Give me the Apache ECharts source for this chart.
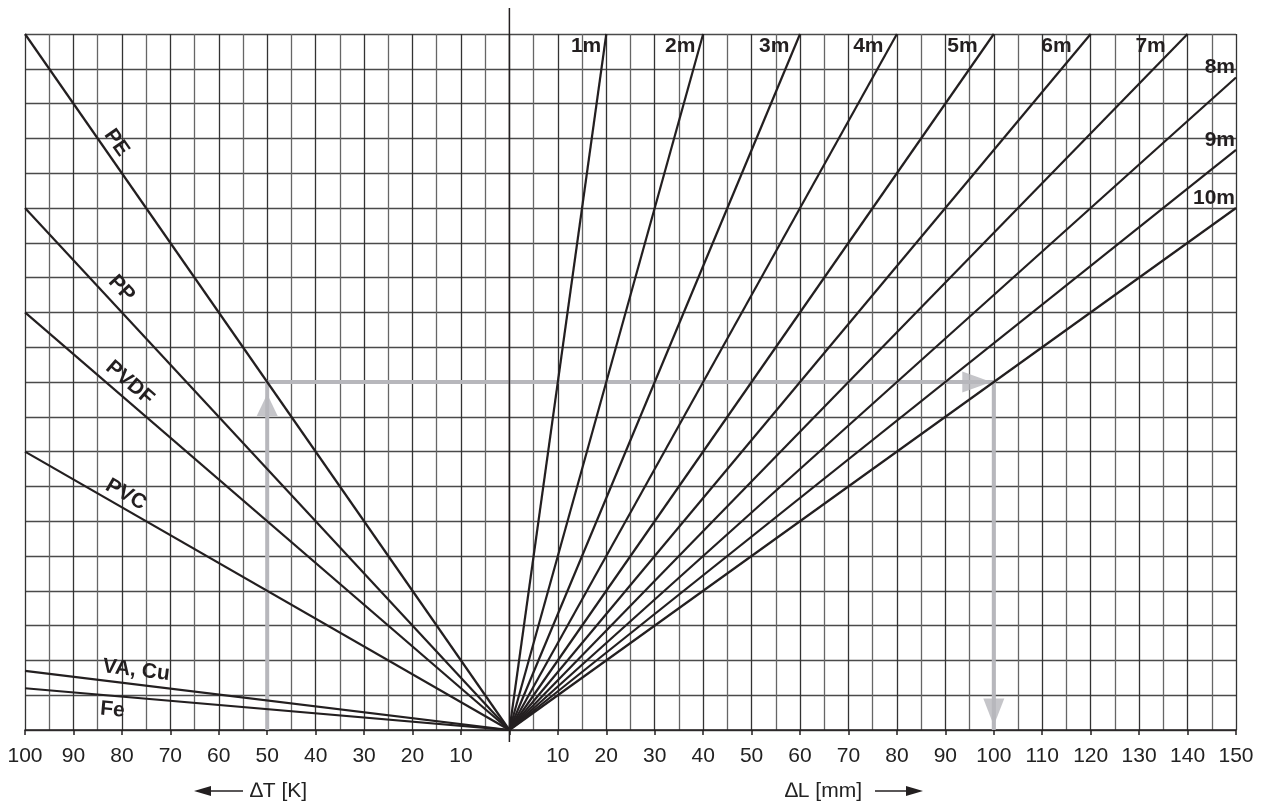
<!DOCTYPE html>
<html>
<head>
<meta charset="utf-8">
<style>
    html, body { margin: 0; padding: 0; background: #fff; }
    #chart { width: 1268px; height: 804px; }
</style>
</head>
<body>
<div id="chart"></div>
<script src="https://cdn.jsdelivr.net/npm/echarts@6.0.0/dist/echarts.min.js"></script>
<script type="text/javascript">
    // pipe lengths (right half): end point of each line
    var lengthNames = ['1m', '2m', '3m', '4m', '5m', '6m', '7m', '8m', '9m', '10m'];
    var lengthEndX = [20, 40, 60, 80, 100, 120, 140, 150, 150, 150];
    var lengthEndY = [20, 20, 20, 20, 20, 20, 20, 18.75, 16.67, 15];

    // materials (left half): end point of each line at dT = 100 K
    var materialNames = ['PE', 'PP', 'PVDF', 'PVC', 'VA, Cu', 'Fe'];
    var materialEndX = [-100, -100, -100, -100, -100, -100];
    var materialEndY = [20, 15, 12, 8, 1.7, 1.2];

    // worked example: dT 50 K -> PE -> 10 m -> dL 100 mm
    var exampleX = [-50, -50, 100, 100];
    var exampleY = [0, 10, 10, 0];

    var font = "'Liberation Sans', Arial, Helvetica, sans-serif";
    var ink = '#231f20';
    var grey = '#b7b7bc';

    var chart = echarts.init(document.getElementById('chart'));

    var series = [];
    series.push({
        type: 'line',
        data: exampleX.map(function (x, i) { return [x, exampleY[i]]; }),
        symbol: 'none',
        lineStyle: { color: grey, width: 4 },
        z: 2, silent: true
    });
    series.push({
        type: 'scatter',
        symbol: 'triangle',
        itemStyle: { color: grey },
        z: 3, silent: true,
        data: [
            { value: [exampleX[1], exampleY[1]], symbolSize: [21, 22], symbolOffset: [0, 23], symbolRotate: 0 },
            { value: [exampleX[2], exampleY[2]], symbolSize: [21, 29], symbolOffset: [-17, 0], symbolRotate: -90 },
            { value: [exampleX[3], exampleY[3]], symbolSize: [21, 27], symbolOffset: [0, -18], symbolRotate: 180 }
        ]
    });
    lengthNames.forEach(function (n, i) {
        series.push({
            type: 'line', name: n, data: [[0, 0], [lengthEndX[i], lengthEndY[i]]],
            symbol: 'none', lineStyle: { color: ink, width: 2.2 }, z: 4, silent: true
        });
    });
    materialNames.forEach(function (n, i) {
        series.push({
            type: 'line', name: n, data: [[0, 0], [materialEndX[i], materialEndY[i]]],
            symbol: 'none', lineStyle: { color: ink, width: 2.2 }, z: 4, silent: true
        });
    });

    chart.setOption({
        animation: false,
        backgroundColor: '#fff',
        grid: { left: 25, right: 32, top: 34, bottom: 74 },
        xAxis: {
            type: 'value', min: -100, max: 150, interval: 10,
            axisLine: { onZero: false, lineStyle: { color: ink, width: 1.5 } },
            axisTick: { show: true, length: 5, lineStyle: { color: ink, width: 1.5 } },
            minorTick: { show: false, splitNumber: 2 },
            axisLabel: {
                show: true, showMinLabel: true, showMaxLabel: true, margin: 16,
                fontSize: 21, color: '#222', fontFamily: font,
                formatter: function (v) { return v === 0 ? '' : String(Math.abs(v)); }
            },
            splitLine: { show: true, lineStyle: { color: '#333', width: 1.3 } },
            minorSplitLine: { show: true, lineStyle: { color: '#666', width: 1.3 } }
        },
        yAxis: {
            type: 'value', min: 0, max: 20, interval: 1,
            axisLine: { show: false }, axisTick: { show: false }, axisLabel: { show: false },
            splitLine: { show: true, lineStyle: { color: '#4a4a4a', width: 1.3 } }
        },
        series: series
    });

    function px(p) { return chart.convertToPixel({ gridIndex: 0 }, p); }

    var graphics = [];
    var o = px([0, 0]);

    // vertical centre axis sticking out above and below the grid
    graphics.push({
        type: 'line', z: 10,
        shape: { x1: o[0], y1: 8, x2: o[0], y2: o[1] + 12 },
        style: { stroke: ink, lineWidth: 1.5 }
    });

    // length labels
    lengthNames.forEach(function (n, i) {
        var e = px([lengthEndX[i], lengthEndY[i]]);
        var x, y;
        if (lengthEndY[i] === 20) {
            x = e[0] - (5 + 2.8 * i);
            y = e[1] + 12;
        } else {
            x = e[0] - 1;
            y = e[1] - 10;
        }
        graphics.push({
            type: 'text', x: x, y: y, z: 20,
            style: {
                text: n, fill: ink, font: 'bold 21px ' + font,
                align: 'right', textAlign: 'right', verticalAlign: 'middle', textVerticalAlign: 'middle'
            }
        });
    });

    // material labels, placed along each line
    var matLabelX = [-83.3, -82.5, -80.4, -80.5, -77.4, -81.7];
    var matLabelOff = [13, 16, 15, 13, 14, -14];
    materialNames.forEach(function (n, i) {
        var e = px([materialEndX[i], materialEndY[i]]);
        var dx = o[0] - e[0], dy = o[1] - e[1];
        var len = Math.sqrt(dx * dx + dy * dy);
        var ux = dx / len, uy = dy / len;
        var t = matLabelX[i] / materialEndX[i];
        var ax = o[0] + t * (e[0] - o[0]);
        var ay = o[1] + t * (e[1] - o[1]);
        var off = matLabelOff[i];
        graphics.push({
            type: 'text', z: 20,
            x: ax + uy * off, y: ay - ux * off,
            rotation: -Math.atan2(dy, dx),
            style: {
                text: n, fill: ink, font: 'bold 21px ' + font,
                align: 'center', textAlign: 'center', verticalAlign: 'middle', textVerticalAlign: 'middle'
            }
        });
    });

    // axis titles with arrows
    var ty = 791;
    graphics.push({ type: 'line', shape: { x1: 208, y1: ty, x2: 243, y2: ty }, style: { stroke: ink, lineWidth: 1.5 } });
    graphics.push({ type: 'polygon', shape: { points: [[194, ty], [211, ty - 5], [211, ty + 5]] }, style: { fill: ink } });
    graphics.push({
        type: 'text', x: 250, y: ty,
        style: { text: '\u2206T [K]', fill: '#222', font: '21px ' + font, align: 'left', textAlign: 'left', verticalAlign: 'middle', textVerticalAlign: 'middle' }
    });
    graphics.push({
        type: 'text', x: 785, y: ty,
        style: { text: '\u2206L [mm]', fill: '#222', font: '21px ' + font, align: 'left', textAlign: 'left', verticalAlign: 'middle', textVerticalAlign: 'middle' }
    });
    graphics.push({ type: 'line', shape: { x1: 875, y1: ty, x2: 908, y2: ty }, style: { stroke: ink, lineWidth: 1.5 } });
    graphics.push({ type: 'polygon', shape: { points: [[923, ty], [906, ty - 5], [906, ty + 5]] }, style: { fill: ink } });

    chart.setOption({ graphic: graphics });
</script>
</body>
</html>
